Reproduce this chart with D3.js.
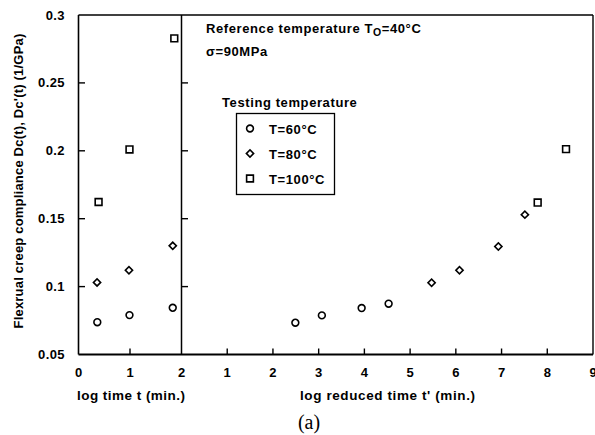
<!DOCTYPE html>
<html><head><meta charset="utf-8">
<script src="https://cdn.jsdelivr.net/npm/d3@7"></script>
<style>
body{margin:0;background:#fff;}
svg{display:block;}
text{font-family:"Liberation Sans",Arial,Helvetica,sans-serif;font-weight:bold;fill:#000;}
</style></head>
<body>
<script>
// ---- data ----
const leftTicks = [0, 1, 2];
const rightTicks = [1, 2, 3, 4, 5, 6, 7, 8, 9];
const yTicks = [0.05, 0.1, 0.15, 0.2, 0.25, 0.3];
const yTickLabels = ["0.05", "0.1", "0.15", "0.2", "0.25", "0.3"];

// left panel: log time t (min.)
const left60X = [0.365, 0.99, 1.83];
const left60Y = [0.0738, 0.0790, 0.0844];
const left80X = [0.36, 0.98, 1.83];
const left80Y = [0.1031, 0.1120, 0.1300];
const left100X = [0.39, 0.99, 1.86];
const left100Y = [0.1623, 0.2010, 0.2828];

// right panel: log reduced time t' (min.)
const right60X = [2.49, 3.07, 3.94, 4.53];
const right60Y = [0.0734, 0.0788, 0.0842, 0.0874];
const right80X = [5.47, 6.08, 6.93, 7.51];
const right80Y = [0.1029, 0.1120, 0.1296, 0.1530];
const right100X = [7.79, 8.41];
const right100Y = [0.1619, 0.2012];

const legendLabels = ["T=60°C", "T=80°C", "T=100°C"];
const legendShapes = ["circle", "diamond", "square"];

// ---- layout ----
const W = 595, H = 435;
const svg = d3.select("body").append("svg").attr("width", W).attr("height", H);

const plotTop = 15, plotBottom = 354.5;
const xL = d3.scaleLinear().domain([0, 2]).range([78.5, 181.5]);
const xR = d3.scaleLinear().domain([0, 9]).range([181.5, 593]);
const y = d3.scaleLinear().domain([0.05, 0.3]).range([plotBottom, plotTop]);

const g = svg.append("g");
const FS = 13, LS = 0.6;

// frame lines
const line = (x1, y1, x2, y2, w) => g.append("line").attr("x1", x1).attr("y1", y1).attr("x2", x2).attr("y2", y2)
  .attr("stroke", "#000").attr("stroke-width", w || 1.5);
line(78.5, plotTop, 593, plotTop, 1.5);
line(78.5, plotTop, 78.5, plotBottom, 1.6);
line(181.5, plotTop, 181.5, plotBottom, 1.5);
line(593, plotTop, 593, plotBottom, 1.4);
line(78.5, plotBottom, 593, plotBottom, 2);

// y ticks (inward on left axis, rightward on divider)
const yInner = yTicks.filter(v => v > 0.05 && v < 0.3);
yInner.forEach(v => {
  line(78.5, y(v), 85, y(v), 1.4);
  line(181.5, y(v), 188, y(v), 1.4);
});
// y tick labels
g.selectAll(".ylab").data(yTicks).enter().append("text")
  .attr("x", 65).attr("y", d => y(d) + 4.5).attr("text-anchor", "end")
  .attr("font-size", FS).attr("letter-spacing", 0.4).text((d, i) => yTickLabels[i]);

// x ticks left panel
leftTicks.filter(v => v > 0 && v < 2).forEach(v => line(xL(v), plotBottom, xL(v), plotBottom - 6, 1.4));
g.selectAll(".xl").data(leftTicks).enter().append("text")
  .attr("x", d => xL(d)).attr("y", 377).attr("text-anchor", "middle")
  .attr("font-size", FS).text(d => d);
// x ticks right panel
rightTicks.filter(v => v < 9).forEach(v => line(xR(v), plotBottom, xR(v), plotBottom - 6, 1.4));
g.selectAll(".xr").data(rightTicks).enter().append("text")
  .attr("x", d => xR(d)).attr("y", 377).attr("text-anchor", "middle")
  .attr("font-size", FS).text(d => d);

// axis titles
g.append("text").attr("x", 77).attr("y", 400)
  .attr("font-size", 13.5).attr("textLength", 108).attr("lengthAdjust", "spacing").text("log time t (min.)");
g.append("text").attr("x", 300).attr("y", 400)
  .attr("font-size", 13.5).attr("textLength", 175).attr("lengthAdjust", "spacing").text("log reduced time t' (min.)");
g.append("text").attr("transform", "translate(23,181) rotate(-90)").attr("text-anchor", "middle")
  .attr("font-size", 13).attr("letter-spacing", 0.2).text("Flexrual creep compliance Dc(t), Dc'(t) (1/GPa)");
g.append("text").attr("x", 309).attr("y", 429).attr("text-anchor", "middle")
  .style("font-family", "'Liberation Serif','Times New Roman',serif").style("font-weight", "normal")
  .attr("font-size", 20).text("(a)");

// annotations
const ref = g.append("text").attr("x", 206).attr("y", 33).attr("font-size", FS).attr("letter-spacing", LS);
ref.append("tspan").text("Reference temperature T");
ref.append("tspan").attr("dy", 3).attr("font-size", 10.5).text("O");
ref.append("tspan").attr("dy", -3).text("=40°C");
g.append("text").attr("x", 206).attr("y", 56).attr("font-size", FS).attr("letter-spacing", LS).text("σ=90MPa");
g.append("text").attr("x", 222).attr("y", 107).attr("font-size", FS).attr("letter-spacing", LS).text("Testing temperature");

// markers
const sym = {
  circle: d3.symbol().type(d3.symbolCircle).size(Math.PI * 3.4 * 3.4)(),
  square: d3.symbol().type(d3.symbolSquare).size(46)(),
  diamond: d3.symbol().type(d3.symbolSquare).size(26)()
};
function drawSeries(xs, ys, xScale, shape) {
  g.append("g").selectAll("path").data(xs.map((x, i) => [x, ys[i]])).enter().append("path")
    .attr("d", sym[shape])
    .attr("transform", d => `translate(${xScale(d[0])},${y(d[1])})` + (shape === "diamond" ? " rotate(45)" : ""))
    .attr("fill", "none").attr("stroke", "#000").attr("stroke-width", 1.6);
}
drawSeries(left60X, left60Y, xL, "circle");
drawSeries(left80X, left80Y, xL, "diamond");
drawSeries(left100X, left100Y, xL, "square");
drawSeries(right60X, right60Y, xR, "circle");
drawSeries(right80X, right80Y, xR, "diamond");
drawSeries(right100X, right100Y, xR, "square");

// legend
g.append("rect").attr("x", 236.5).attr("y", 113.5).attr("width", 98).attr("height", 81)
  .attr("fill", "none").attr("stroke", "#000").attr("stroke-width", 1.3);
legendLabels.forEach((lab, i) => {
  const ly = 128.5 + i * 25;
  g.append("path").attr("d", sym[legendShapes[i]])
    .attr("transform", `translate(250,${ly})` + (legendShapes[i] === "diamond" ? " rotate(45)" : ""))
    .attr("fill", "none").attr("stroke", "#000").attr("stroke-width", 1.6);
  g.append("text").attr("x", 269).attr("y", ly + 5).attr("font-size", FS).attr("letter-spacing", LS).text(lab);
});
</script>
</body></html>
